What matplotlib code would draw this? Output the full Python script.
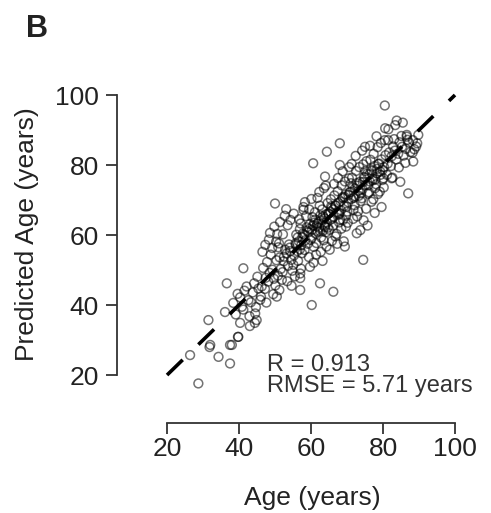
import matplotlib
matplotlib.use("Agg")
import matplotlib.pyplot as plt

plt.rcParams['font.family'] = ['Liberation Sans', 'DejaVu Sans']

# chronological age vs predicted age
age = [
    # outliers
    80.5, 83.8, 86.6, 89.5, 88.2, 88.4, 87.0, 82.4, 79.6, 74.5,
    68.0, 64.4, 60.6, 68.0, 63.9, 50.0, 57.9, 41.2, 36.6, 60.2,
    62.5, 66.2, 57.0, 50.5, 44.9, 31.5, 39.8, 37.5, 32.0, 34.3,
    37.5, 26.4, 28.7, 36.1, 40.3, 44.4, 38.0, 39.7, 31.8, 43.0,
    72.7, 68.9, 59.7, 57.0, 69.4, 57.0, 75.0, 80.6, 81.4, 86.6,
    # 38-45
    38.4, 39.1, 40.3, 40.8, 41.5, 41.2, 42.6, 42.1, 43.3, 43.8,
    44.2, 44.7, 45.4, 45.1, 45.9, 39.6, 42.9, 44.5,
    # 45-50
    46.3, 46.7, 46.1, 47.4, 47.8, 47.2, 48.5, 48.1, 48.8, 49.3,
    49.7, 49.2, 50.4, 50.8, 50.1, 46.5, 48.3, 50.6, 47.6, 49.5, 50.9,
    # upper-left bulge
    47.3, 48.6, 49.8, 50.3, 51.4, 52.2, 52.7, 53.5, 51.1, 54.3, 55.2, 53.1,
    # 50-55
    51.6, 51.3, 51.9, 52.4, 52.8, 52.1, 53.6, 53.2, 53.9, 54.5,
    54.1, 54.8, 55.3, 55.7, 55.1, 55.9, 51.2, 53.4, 54.6, 55.5,
    # 55-60
    56.2, 56.6, 56.9, 56.4, 57.3, 57.7, 57.1, 57.5, 58.4, 58.8,
    58.2, 58.6, 59.3, 59.7, 59.1, 59.5, 60.2, 60.6, 60.4, 60.8,
    56.7, 57.9, 58.3, 60.1, 59.4, 57.2, 60.7,
    # 60-65
    61.3, 61.7, 61.1, 61.5, 62.2, 62.6, 62.8, 62.4, 63.3, 63.7,
    63.1, 63.5, 64.4, 64.8, 64.2, 64.6, 65.3, 65.7, 65.1, 65.5,
    61.8, 62.3, 63.6, 64.1, 65.8, 62.7, 64.3, 61.4, 63.2, 65.2,
    61.6, 62.1, 63.4, 64.7, 65.4,
    # 65-70
    66.3, 66.7, 66.1, 66.5, 67.2, 67.6, 67.8, 67.4, 68.3, 68.7,
    68.1, 68.5, 69.2, 69.6, 69.8, 69.4, 70.3, 70.7, 70.1, 70.5,
    66.8, 67.1, 68.4, 69.7, 70.2, 66.4, 67.5, 68.8, 70.6, 69.1, 67.3,
    # 70-75
    71.2, 71.6, 71.8, 71.4, 72.3, 72.7, 72.1, 72.5, 73.2, 73.6,
    73.8, 73.4, 74.3, 74.7, 74.1, 74.5, 75.2, 75.6, 75.8, 75.4,
    71.7, 72.8, 73.1, 74.6, 75.3, 71.3, 72.4, 74.2, 73.7, 75.7,
    # 75-80
    76.3, 76.7, 76.1, 76.5, 77.2, 77.6, 77.8, 77.4, 78.3, 78.7,
    78.1, 78.5, 79.2, 79.6, 79.8, 79.4, 80.3, 80.7, 80.1, 80.5,
    76.8, 77.3, 78.6, 79.1, 80.2, 76.4, 78.2, 77.7,
    # 80-90
    81.3, 81.7, 81.1, 82.4, 82.8, 82.2, 83.3, 83.7, 83.1, 84.2,
    84.6, 85.3, 85.7, 85.1, 86.4, 86.8, 87.2, 87.6, 88.3, 88.7,
    89.2, 89.8, 81.5, 83.4, 85.5, 84.4, 86.2, 82.6, 84.8,
    # dense core
    55.8, 56.9, 57.6, 58.9, 59.9, 60.9, 61.9, 62.9, 63.9, 64.9,
    65.9, 66.9, 67.9, 68.9, 69.9, 70.9, 71.9, 72.9, 73.9, 74.9,
    75.9, 76.9, 77.9, 78.9, 79.9, 58.1, 60.3, 62.5, 64.1, 66.2,
    68.2, 70.4, 72.2, 74.4, 76.2, 78.4, 59.6, 61.2, 63.8, 65.6,
    67.7, 69.3, 71.1, 73.3, 75.1, 77.1, 79.3, 56.3, 54.2, 52.5,
]
predicted = [
    97.0, 92.7, 88.6, 86.2, 83.5, 81.0, 71.9, 76.2, 68.0, 52.9,
    86.2, 83.8, 80.5, 80.0, 76.7, 69.0, 68.0, 50.5, 46.2, 40.0,
    46.2, 43.8, 44.3, 42.4, 35.7, 35.7, 30.9, 28.6, 28.6, 25.2,
    23.3, 25.7, 17.6, 38.0, 34.9, 34.9, 28.6, 30.9, 28.0, 34.0,
    60.5, 64.3, 50.9, 47.7, 56.7, 49.0, 85.2, 90.5, 87.1, 88.1,
    40.6, 37.3, 42.2, 39.5, 44.1, 38.7, 41.4, 45.3, 40.8, 43.6,
    46.2, 39.4, 44.7, 48.1, 41.5, 43.2, 36.8, 37.6,
    45.3, 50.6, 42.4, 47.8, 52.3, 44.6, 49.2, 46.7, 54.4, 50.1,
    47.5, 56.3, 52.8, 48.4, 45.6, 55.2, 58.7, 60.3, 40.7, 43.1, 56.5,
    57.2, 60.6, 62.4, 58.1, 63.7, 60.2, 65.5, 62.8, 57.6, 64.3, 66.1, 67.4,
    50.3, 53.6, 47.2, 52.5, 55.8, 49.4, 51.2, 54.7, 57.3, 52.9,
    56.4, 49.8, 54.2, 57.6, 51.5, 60.1, 44.3, 46.8, 45.5, 48.2,
    55.4, 58.2, 61.7, 52.6, 57.1, 60.4, 63.3, 54.8, 58.5, 62.2,
    55.7, 65.4, 60.8, 63.1, 57.5, 67.3, 59.2, 62.7, 65.1, 56.6,
    64.5, 67.2, 69.4, 70.3, 53.7, 50.4, 52.1,
    60.4, 63.2, 66.5, 57.7, 62.1, 65.6, 59.3, 68.4, 61.2, 64.7,
    67.3, 58.5, 63.6, 66.2, 60.8, 69.1, 64.3, 67.7, 61.5, 70.2,
    70.6, 72.3, 73.4, 74.1, 58.3, 55.2, 56.7, 54.4, 52.6, 55.8,
    62.5, 63.8, 65.3, 62.1, 66.6,
    65.2, 68.5, 62.7, 71.3, 66.4, 69.2, 63.6, 72.5, 67.1, 70.8,
    64.4, 74.2, 68.3, 71.6, 65.5, 75.3, 69.4, 72.1, 66.7, 76.2,
    59.6, 60.3, 61.8, 62.4, 63.5, 74.6, 76.3, 78.2, 79.4, 58.2, 57.5,
    70.3, 73.6, 67.2, 76.4, 71.1, 74.8, 68.5, 78.3, 72.6, 75.2,
    69.7, 79.4, 73.1, 76.6, 70.5, 80.2, 74.3, 77.5, 71.8, 81.1,
    64.6, 65.3, 66.8, 64.2, 67.5, 80.3, 82.6, 84.1, 61.4, 62.7,
    75.3, 78.6, 72.2, 81.5, 76.1, 79.7, 73.4, 83.2, 77.6, 80.3,
    74.5, 85.1, 78.2, 81.6, 75.7, 86.3, 79.4, 82.8, 76.2, 87.1,
    69.5, 70.2, 71.7, 72.4, 73.6, 85.5, 88.2, 66.3,
    80.4, 83.6, 77.2, 82.5, 85.3, 79.7, 84.1, 81.6, 87.4, 83.2,
    86.5, 85.2, 82.7, 88.3, 84.6, 87.2, 86.4, 83.7, 87.1, 84.5,
    85.3, 88.6, 90.2, 91.4, 92.1, 79.3, 80.6, 76.4, 75.2,
    57.2, 55.9, 59.4, 61.2, 58.6, 63.5, 60.9, 64.2, 62.3, 66.1,
    64.7, 68.4, 66.2, 70.5, 68.1, 72.3, 70.6, 74.1, 71.9, 76.4,
    74.2, 78.3, 75.9, 80.4, 78.6, 60.1, 61.5, 61.1, 65.9, 67.3,
    69.6, 71.4, 73.3, 75.1, 77.3, 78.9, 61.8, 64.4, 62.7, 68.2,
    65.8, 70.9, 74.8, 71.2, 78.3, 75.6, 77.2, 59.3, 55.4, 53.8,
]
assert len(age) == len(predicted)

identity = [20, 100]
ticks = [20, 40, 60, 80, 100]
r_value = 0.913
rmse = 5.71

fig = plt.figure(figsize=(4.91, 5.13), dpi=100)
ax = fig.add_axes([117 / 491, 90 / 513, 341.6 / 491, 335 / 513])

ax.scatter(age, predicted, s=40, facecolors='none',
           edgecolors=(0, 0, 0, 0.55), linewidths=1.1, zorder=2)
ax.plot(identity, identity, color='black', lw=2.6,
        linestyle=(0, (6.05, 6.05)), zorder=3)

ax.set_xlim(6.1, 101)
ax.set_ylim(6.3, 102)
for side in ['top', 'right']:
    ax.spines[side].set_visible(False)
for side in ['left', 'bottom']:
    ax.spines[side].set_bounds(20, 100)
    ax.spines[side].set_linewidth(1.3)
    ax.spines[side].set_color('#333333')
ax.set_xticks(ticks)
ax.set_yticks(ticks)
ax.tick_params(axis='both', direction='out', length=8, width=1.3,
               color='#333333', labelsize=19, labelcolor='#222222')
ax.tick_params(axis='x', pad=2)
ax.tick_params(axis='y', pad=5)

ax.text(47.8, 26.0, f"R = {r_value}\nRMSE = {rmse} years", fontsize=17,
        color='#333333', ha='left', va='top', linespacing=0.95)

fig.text(312 / 491, 1 - 498 / 513, "Age (years)", fontsize=19,
         color='#222222', ha='center', va='center')
fig.text(27 / 491, 1 - 234 / 513, "Predicted Age (years)", fontsize=19,
         color='#222222', ha='center', va='center', rotation=90)
fig.text(37 / 491, 1 - 29 / 513, "B", fontsize=22, fontweight='bold',
         color='#222222', ha='center', va='center')

fig.savefig("out.png", dpi=100)
